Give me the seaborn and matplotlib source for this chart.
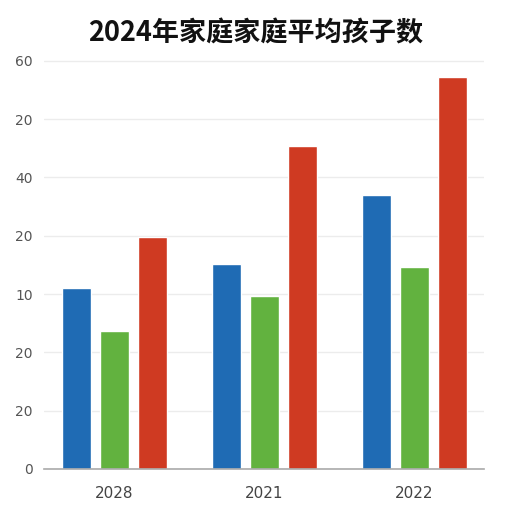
import matplotlib
matplotlib.use("Agg")
import matplotlib.pyplot as plt
import seaborn as sns
import pandas as pd

years = ["2028", "2021", "2022"]
series = ["系列1", "系列2", "系列3"]
blue_vals = [31.0, 35.2, 47.0]
green_vals = [23.7, 29.7, 34.6]
red_vals = [39.8, 55.4, 67.2]
ytick_values = [0, 10, 20, 30, 40, 50, 60, 70]
ytick_labels = ["0", "20", "20", "10", "20", "40", "20", "60"]
title = "2024年家庭家庭平均孩子数"
colors = ["#1f6bb4", "#62b23f", "#cf3a22"]

rows = []
for s, vals in zip(series, [blue_vals, green_vals, red_vals]):
    for y, v in zip(years, vals):
        rows.append({"year": y, "series": s, "value": v})
df = pd.DataFrame(rows)

sns.set_theme(style="white")
plt.rcParams["font.family"] = ["DejaVu Sans"]

fig = plt.figure(figsize=(5.12, 5.12), dpi=100)
ax = fig.add_axes([44 / 512, 1 - 469 / 512, 440 / 512, 414 / 512])

sns.barplot(data=df, x="year", y="value", hue="series", order=years,
            hue_order=series, palette=colors, width=0.76, gap=0.26,
            saturation=1, legend=False, ax=ax)

ax.set_xlim(-0.47, 2.463)
ax.set_ylim(0, 71)
ax.set_yticks(ytick_values)
ax.set_yticklabels(ytick_labels)
ax.grid(axis="y", color="#ececec", linewidth=1)
ax.set_axisbelow(True)
for sp in ["top", "right", "left"]:
    ax.spines[sp].set_visible(False)
ax.spines["bottom"].set_color("#aaaaaa")
ax.spines["bottom"].set_linewidth(1.2)
ax.tick_params(axis="y", length=0, labelsize=10, labelcolor="#555555", pad=8)
ax.tick_params(axis="x", length=0, labelsize=11, labelcolor="#444444", pad=12)
ax.set_xlabel("")
ax.set_ylabel("")

fig.text(0.5, 1 - 33 / 512, title, ha="center", va="center",
         fontsize=19.5, fontweight="bold", color="#111111",
         family=["Noto Sans CJK SC", "DejaVu Sans"])

fig.savefig("out.png", dpi=100, facecolor="white")
